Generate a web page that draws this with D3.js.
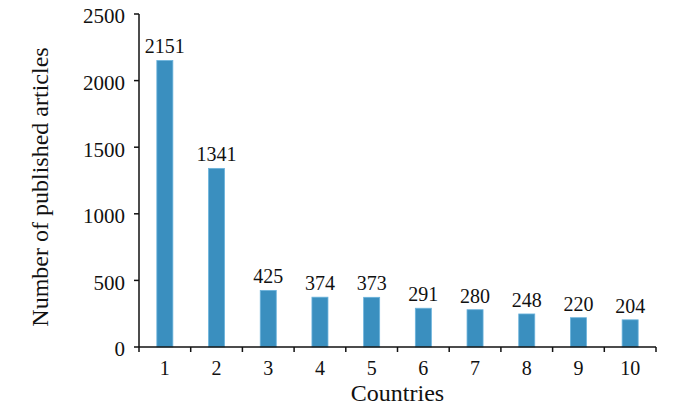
<!DOCTYPE html>
<html><head><meta charset="utf-8">
<script src="https://cdn.jsdelivr.net/npm/d3@7"></script>
<style>body{margin:0;background:#fff}text{font-family:"Liberation Serif","Times New Roman",serif;fill:#111}</style>
</head><body><svg id="c" width="700" height="406"></svg>
<script>
const categories = ["1","2","3","4","5","6","7","8","9","10"];
const values = [2151,1341,425,374,373,291,280,248,220,204];
const yTicks = [0,500,1000,1500,2000,2500];

const svg = d3.select("#c");
const m = {l:139, r:44, t:14, b:59};
const W = 700, H = 406;
const x = d3.scaleBand().domain(categories).range([m.l, W-m.r]).paddingInner(0.69).paddingOuter(0.345);
const xt = d3.scaleBand().domain(categories).range([m.l, W-m.r]);
const y = d3.scaleLinear().domain([0,2500]).range([H-m.b, m.t]);

svg.selectAll("rect.bar").data(values).join("rect")
  .attr("class","bar")
  .attr("x",(d,i)=>x(categories[i])).attr("width",x.bandwidth())
  .attr("y",d=>y(d)).attr("height",d=>y(0)-y(d))
  .attr("fill","#3a8fbf").attr("stroke","#6bb3dc").attr("stroke-width",0.8);

svg.selectAll("text.val").data(values).join("text")
  .attr("class","val")
  .attr("x",(d,i)=>x(categories[i])+x.bandwidth()/2).attr("y",d=>y(d)-7)
  .attr("text-anchor","middle").attr("font-size",20).text(d=>d);

// x axis
const gx = svg.append("g").attr("transform",`translate(0,${y(0)})`);
gx.append("line").attr("x1",m.l).attr("x2",W-m.r).attr("stroke","#111").attr("stroke-width",1.5);
const edges = categories.map(c=>xt(c)).concat([W-m.r]);
gx.selectAll("line.t").data(edges).join("line").attr("class","t")
  .attr("x1",d=>d).attr("x2",d=>d).attr("y1",0).attr("y2",5).attr("stroke","#111").attr("stroke-width",1.5);
gx.selectAll("text").data(categories).join("text")
  .attr("x",d=>xt(d)+xt.bandwidth()/2).attr("y",28)
  .attr("text-anchor","middle").attr("font-size",20).text(d=>d);

// y axis
const gy = svg.append("g").attr("transform",`translate(${m.l},0)`);
gy.append("line").attr("y1",y(0)).attr("y2",y(2500)).attr("stroke","#111").attr("stroke-width",1.5);
gy.selectAll("line.t").data(yTicks).join("line").attr("class","t")
  .attr("x1",-5).attr("x2",0).attr("y1",d=>y(d)).attr("y2",d=>y(d)).attr("stroke","#111").attr("stroke-width",1.5);
gy.selectAll("text").data(yTicks).join("text")
  .attr("x",-14).attr("y",d=>y(d)).attr("dy","0.45em")
  .attr("text-anchor","end").attr("font-size",21).text(d=>d);

svg.append("text").attr("x",(m.l+W-m.r)/2).attr("y",401).attr("text-anchor","middle").attr("font-size",24).text("Countries");
svg.append("text").attr("transform",`translate(48,187) rotate(-90)`).attr("text-anchor","middle").attr("font-size",24).text("Number of published articles");
</script></body></html>
